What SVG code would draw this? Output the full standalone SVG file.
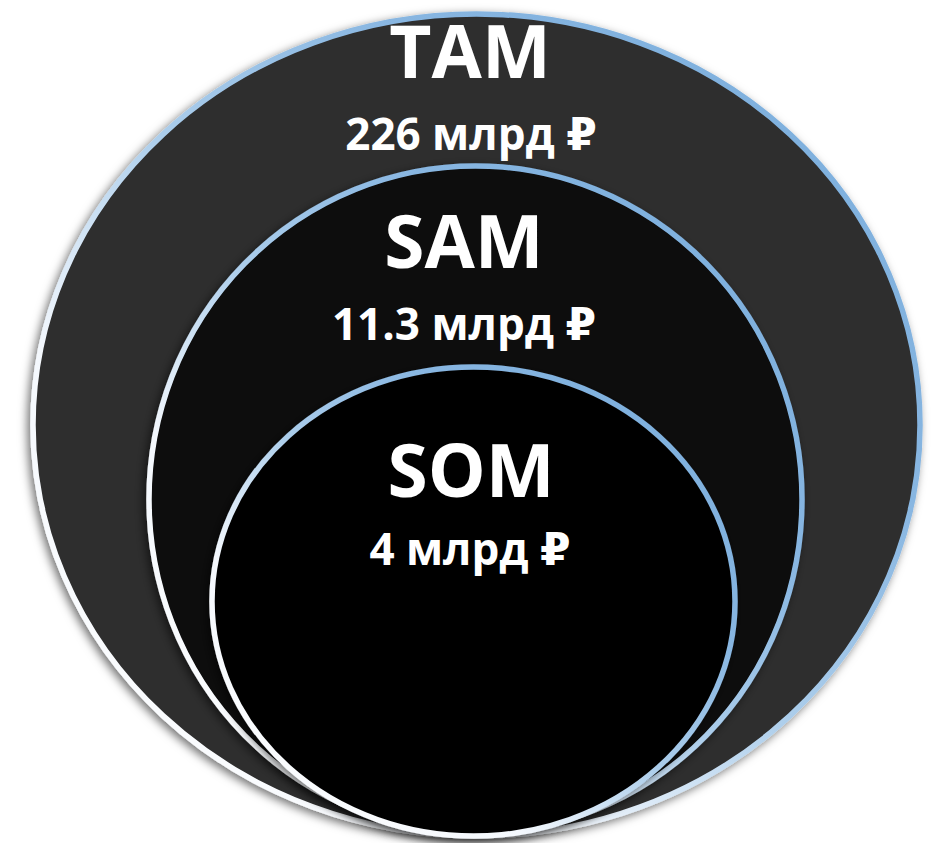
<svg xmlns="http://www.w3.org/2000/svg" width="933" height="843" viewBox="0 0 933 843">
  <defs>
    <linearGradient id="rim" x1="0" y1="1" x2="1" y2="0">
      <stop offset="0" stop-color="#ffffff"/>
      <stop offset="0.3" stop-color="#f4f8fd"/>
      <stop offset="0.5" stop-color="#abcdeb"/>
      <stop offset="0.7" stop-color="#88b6e1"/>
      <stop offset="1" stop-color="#78acdb"/>
    </linearGradient>
    <filter id="shadow" x="-10%" y="-10%" width="120%" height="120%">
      <feDropShadow dx="-3" dy="3" stdDeviation="5" flood-color="#000000" flood-opacity="0.55"/>
    </filter>
    <style>
      .ring { stroke: url(#rim); stroke-width: 5.5; filter: url(#shadow); }
      .title { font-family: "Open Sans", "DejaVu Sans", sans-serif; font-weight: 700; fill: #ffffff; text-anchor: middle; }
      .big { font-size: 73px; }
      .val { font-size: 44px; }
    </style>
  </defs>
  <rect width="933" height="843" fill="#ffffff"/>
  <g id="tam">
    <ellipse class="ring" cx="476.5" cy="425" rx="443.5" ry="411" fill="#2d2d2d"/>
    <text class="title big" x="470" y="78">TAM</text>
    <text class="title val" x="471" y="150">226 млрд ₽</text>
  </g>
  <g id="sam">
    <ellipse class="ring" cx="475.5" cy="499.5" rx="326.5" ry="333.5" fill="#0a0a0a"/>
    <text class="title big" x="464" y="268">SAM</text>
    <text class="title val" x="464" y="340">11.3 млрд ₽</text>
  </g>
  <g id="som">
    <ellipse class="ring" cx="473.5" cy="601.5" rx="261.5" ry="234.5" fill="#030303"/>
    <text class="title big" x="471" y="497">SOM</text>
    <text class="title val" x="470" y="565">4 млрд ₽</text>
  </g>
  <g id="connectors"/>
</svg>
